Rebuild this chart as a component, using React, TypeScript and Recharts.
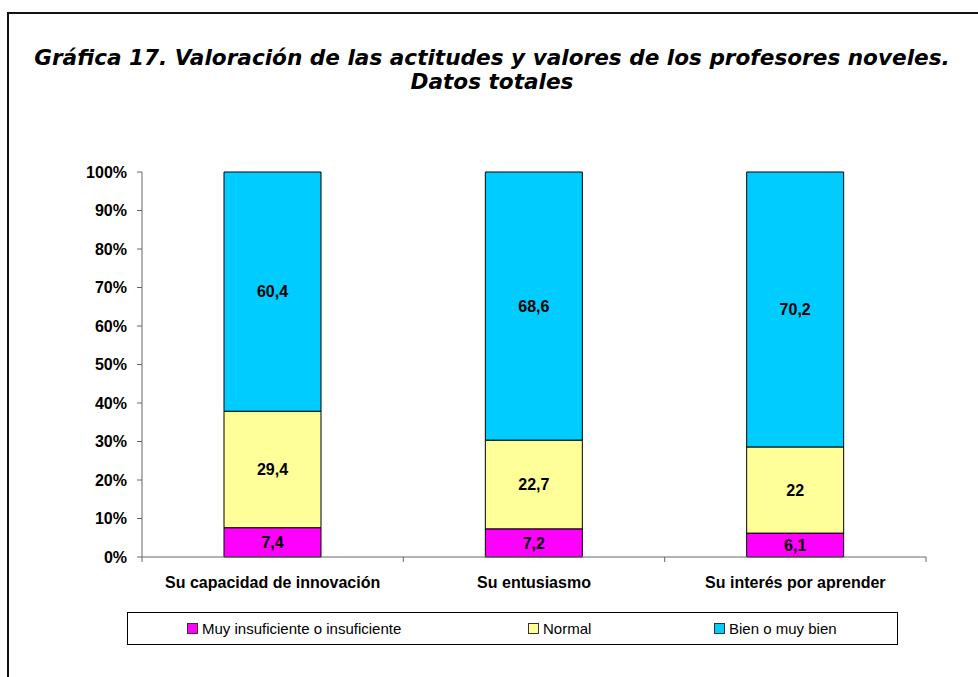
import { Bar, BarChart, LabelList, Legend, XAxis, YAxis } from "recharts";

const categories = [
  "Su capacidad de innovación",
  "Su entusiasmo",
  "Su interés por aprender",
];
const insuficiente = [7.4, 7.2, 6.1];
const normal = [29.4, 22.7, 22];
const bien = [60.4, 68.6, 70.2];
const yTicks = [0, 0.1, 0.2, 0.3, 0.4, 0.5, 0.6, 0.7, 0.8, 0.9, 1];

const seriesKeys = ["insuficiente", "normal", "bien"];
const seriesNames: Record<string, string> = {
  insuficiente: "Muy insuficiente o insuficiente",
  normal: "Normal",
  bien: "Bien o muy bien",
};

const data = categories.map((name, i) => ({
  name,
  insuficiente: insuficiente[i],
  normal: normal[i],
  bien: bien[i],
}));

const legendOffsets = [59, 400, 586];

const fmt = (v: any) => String(v).replace(".", ",");

const labelStyle = {
  fontFamily: "'Liberation Sans', Arial, sans-serif",
  fontSize: 16,
  fontWeight: "bold",
  fill: "#000",
};

// Excel style: tick marks between categories, labels centred
const CategoryTick = (props: any) => {
  const { x, y, payload, index } = props;
  const half = payload.offset || 0;
  const axisY = y - 20;
  return (
    <g>
      <line x1={x - half} x2={x - half} y1={axisY} y2={axisY + 5} stroke="#666" />
      {index === categories.length - 1 && (
        <line x1={x + half} x2={x + half} y1={axisY} y2={axisY + 5} stroke="#666" />
      )}
      <text x={x} y={y} dy="0.71em" textAnchor="middle" style={labelStyle}>
        {payload.value}
      </text>
    </g>
  );
};

const LegendBox = (props: any) => {
  const items = [...(props.payload || [])].sort(
    (a: any, b: any) => seriesKeys.indexOf(a.dataKey) - seriesKeys.indexOf(b.dataKey),
  );
  return (
    <div
      style={{
        width: 771,
        height: 33,
        border: "1px solid #000",
        boxSizing: "border-box",
        position: "relative",
        background: "#fff",
        fontFamily: "'Liberation Sans', Arial, sans-serif",
        fontSize: 15,
        color: "#000",
      }}
    >
      {items.map((item: any, i: number) => (
        <div
          key={item.value}
          style={{
            position: "absolute",
            left: legendOffsets[i],
            top: 7,
            display: "flex",
            alignItems: "center",
            whiteSpace: "nowrap",
          }}
        >
          <span
            style={{
              display: "inline-block",
              width: 9,
              height: 9,
              background: item.color,
              border: "1px solid #333",
              marginRight: 4,
            }}
          />
          {item.value}
        </div>
      ))}
    </div>
  );
};

export default function App() {
  return (
    <div
      style={{
        position: "absolute",
        left: 0,
        top: 0,
        width: 978,
        height: 677,
        overflow: "hidden",
        background: "#fff",
      }}
    >
      <div
        style={{
          position: "absolute",
          left: 7,
          top: 12,
          width: 1000,
          height: 700,
          border: "2px solid #111",
        }}
      />
      <div
        style={{
          position: "absolute",
          left: 0,
          top: 46,
          width: 984,
          textAlign: "center",
          fontFamily: "'DejaVu Sans', Verdana, sans-serif",
          fontWeight: "bold",
          fontStyle: "italic",
          fontSize: 21.6,
          lineHeight: "24px",
          color: "#000",
          whiteSpace: "nowrap",
        }}
      >
        Gráfica 17. Valoración de las actitudes y valores de los profesores noveles.
        <br />
        Datos totales
      </div>
      <div style={{ position: "absolute", left: 0, top: 0 }}>
        <BarChart
          width={978}
          height={677}
          data={data}
          stackOffset="expand"
          margin={{ top: 172, right: 52, bottom: 32, left: 0 }}
        >
          <XAxis
            dataKey="name"
            height={55}
            tickLine={false}
            tickSize={6}
            tickMargin={14}
            stroke="#666"
            tick={<CategoryTick />}
            interval={0}
          />
          <YAxis
            width={142}
            domain={[0, 1]}
            ticks={yTicks}
            tickSize={5}
            tickMargin={10}
            stroke="#666"
            tick={labelStyle}
            tickFormatter={(v: number) => `${Math.round(v * 100)}%`}
            interval={0}
          />
          <Legend
            verticalAlign="bottom"
            content={LegendBox}
            wrapperStyle={{ left: 127, bottom: 32, width: 771 }}
          />
          <Bar
            dataKey="insuficiente"
            name={seriesNames.insuficiente}
            stackId="a"
            fill="#FF00FF"
            stroke="#000"
            strokeWidth={1}
            barSize={97}
            isAnimationActive={false}
          >
            <LabelList dataKey="insuficiente" position="center" formatter={fmt} style={labelStyle} />
          </Bar>
          <Bar
            dataKey="normal"
            name={seriesNames.normal}
            stackId="a"
            fill="#FFFF99"
            stroke="#000"
            strokeWidth={1}
            barSize={97}
            isAnimationActive={false}
          >
            <LabelList dataKey="normal" position="center" formatter={fmt} style={labelStyle} />
          </Bar>
          <Bar
            dataKey="bien"
            name={seriesNames.bien}
            stackId="a"
            fill="#00CCFF"
            stroke="#000"
            strokeWidth={1}
            barSize={97}
            isAnimationActive={false}
          >
            <LabelList dataKey="bien" position="center" formatter={fmt} style={labelStyle} />
          </Bar>
        </BarChart>
      </div>
    </div>
  );
}
